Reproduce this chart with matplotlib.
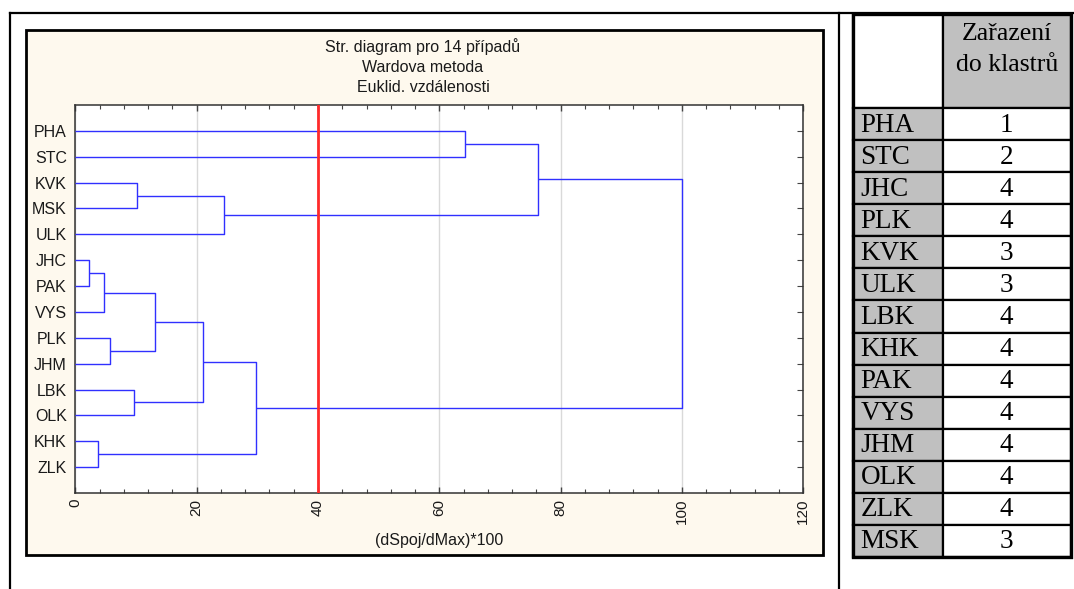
import matplotlib
matplotlib.use("Agg")
import matplotlib.pyplot as plt
from matplotlib.patches import Rectangle
from matplotlib.ticker import MultipleLocator

# dendrogram data (Ward, euclidean, rescaled to dSpoj/dMax*100)
leaves = ["PHA", "STC", "KVK", "MSK", "ULK", "JHC", "PAK",
          "VYS", "PLK", "JHM", "LBK", "OLK", "KHK", "ZLK"]
# merges: cluster ids follow scipy convention (leaves 0..13, new ids from 14)
merge_left = [5, 12, 14, 8, 10, 2, 16, 20, 19, 21, 0, 24, 25]
merge_right = [6, 13, 7, 9, 11, 3, 17, 18, 4, 15, 1, 22, 23]
merge_height = [2.3, 3.7, 4.7, 5.7, 9.6, 10.2, 13.1, 21.0, 24.5, 29.8, 64.3, 76.3, 100.0]
cut_level = 40

title_lines = ["Str. diagram pro 14 případů", "Wardova metoda", "Euklid. vzdálenosti"]
x_label = "(dSpoj/dMax)*100"

# cluster assignment table
table_header = ["Zařazení", "do klastrů"]
table_names = ["PHA", "STC", "JHC", "PLK", "KVK", "ULK", "LBK",
               "KHK", "PAK", "VYS", "JHM", "OLK", "ZLK", "MSK"]
table_clusters = [1, 2, 4, 4, 3, 3, 4, 4, 4, 4, 4, 4, 4, 3]

W, H = 1074, 589
fig = plt.figure(figsize=(W / 100, H / 100), dpi=100)
fig.patch.set_facecolor("white")

# background layer in pixel coordinates (document frame, chart frame, table)
bg = fig.add_axes([0, 0, 1, 1])
bg.set_xlim(0, W)
bg.set_ylim(H, 0)
bg.axis("off")

# document table lines
bg.plot([10, W], [13, 13], color="black", lw=1.6)
bg.plot([10, 10], [13, H], color="black", lw=1.6)
bg.plot([839, 839], [13, H], color="black", lw=1.6)

# chart frame
bg.add_patch(Rectangle((25.5, 30), 797, 525, facecolor="#fef9ee",
                       edgecolor="black", lw=2.0))
for i, line in enumerate(title_lines):
    bg.text(423, 47 + i * 20, line, ha="center", va="center",
            fontsize=11.5, family="Liberation Sans", color="#1a1a1a")
bg.text(439, 541, x_label, ha="center", va="center",
        fontsize=11.5, family="Liberation Sans", color="#1a1a1a")

# table
tx0, tx1, tx2 = 852.5, 942.5, 1071
ty0, ty_head = 13.5, 108
row_h = (557 - ty_head) / len(table_names)
bg.add_patch(Rectangle((tx0, ty0), tx1 - tx0, ty_head - ty0, facecolor="white",
                       edgecolor="black", lw=1.6))
bg.add_patch(Rectangle((tx1, ty0), tx2 - tx1, ty_head - ty0, facecolor="#c0c0c0",
                       edgecolor="black", lw=1.6))
for i, line in enumerate(table_header):
    bg.text((tx1 + tx2) / 2, 34 + i * 31, line, ha="center", va="center",
            fontsize=18.5, family="Liberation Serif")
for i, (name, cl) in enumerate(zip(table_names, table_clusters)):
    y = ty_head + i * row_h
    bg.add_patch(Rectangle((tx0, y), tx1 - tx0, row_h, facecolor="#c0c0c0",
                           edgecolor="black", lw=1.6))
    bg.add_patch(Rectangle((tx1, y), tx2 - tx1, row_h, facecolor="white",
                           edgecolor="black", lw=1.6))
    bg.text(tx0 + 8, y + row_h / 2 + 1, name, ha="left", va="center",
            fontsize=19.5, family="Liberation Serif")
    bg.text((tx1 + tx2) / 2, y + row_h / 2 + 1, str(cl), ha="center", va="center",
            fontsize=19.5, family="Liberation Serif")
bg.add_patch(Rectangle((tx0, ty0), tx2 - tx0, 557 - ty0, facecolor="none",
                       edgecolor="black", lw=2.4))

# dendrogram axes
ax = fig.add_axes([75.3 / W, 1 - 493 / H, 728 / W, 388 / H])
ax.set_facecolor("white")
ax.set_xlim(0, 120)
ax.set_ylim(15, 0)

n = len(leaves)
pos = {i: i + 1 for i in range(n)}
hgt = {i: 0.0 for i in range(n)}
for k, (a, b, h) in enumerate(zip(merge_left, merge_right, merge_height)):
    ax.plot([hgt[a], h, h, hgt[b]], [pos[a], pos[a], pos[b], pos[b]],
            color="#3030ff", lw=1.0, solid_capstyle="butt", zorder=3)
    pos[n + k] = (pos[a] + pos[b]) / 2
    hgt[n + k] = h

ax.axvline(cut_level, color="#ff2a2a", lw=2.0, zorder=4)

ax.xaxis.set_major_locator(MultipleLocator(20))
ax.xaxis.set_minor_locator(MultipleLocator(4))
ax.grid(axis="x", which="major", color="#d9d9d9", lw=1.0, zorder=0)
ax.set_axisbelow(True)
ax.tick_params(axis="x", which="both", direction="in", top=True, bottom=True,
               color="#444444")
ax.tick_params(axis="x", which="major", length=4, width=1, labelrotation=90,
               labelsize=11, pad=4, labelcolor="#1a1a1a")
ax.tick_params(axis="x", which="minor", length=3, width=0.8)
for lab in ax.get_xticklabels():
    lab.set_family("Liberation Sans")

ax.set_yticks(range(1, n + 1))
ax.set_yticklabels(leaves, family="Liberation Sans")
ax.tick_params(axis="y", left=False, right=True, direction="in", length=4,
               color="#444444", labelsize=11.5, pad=6, labelcolor="#1a1a1a")

for s in ax.spines.values():
    s.set_color("#333333")
    s.set_linewidth(1.1)

fig.savefig("out.png", dpi=100)
